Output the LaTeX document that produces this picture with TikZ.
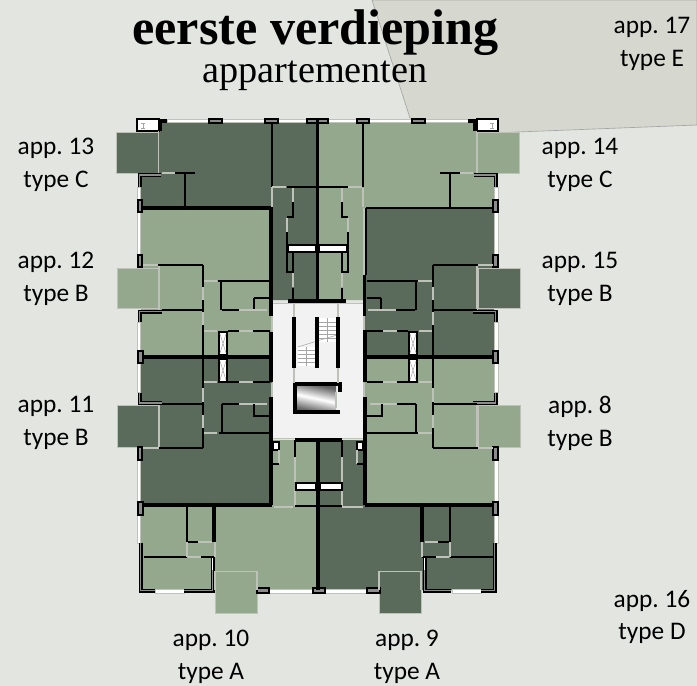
\documentclass[tikz,border=0pt]{standalone}
\usepackage{fontspec}
\newfontfamily\labelfont{Carlito}
\newfontfamily\titlefont{Liberation Serif}
\definecolor{groundpale}{HTML}{E3E5E0}
\definecolor{groundnext}{HTML}{D6D8CF}
\definecolor{roomdark}{HTML}{5B6B5B}
\definecolor{roomlight}{HTML}{94A88E}
\definecolor{corefill}{HTML}{F2F2F2}
\definecolor{doorgrey}{HTML}{BEC2B8}
\definecolor{cavitygrey}{HTML}{8C8C8C}
\tikzset{every picture/.style={line width=0.75pt}}
\tikzset{
  aptlabel/.style={font=\labelfont\fontsize{19}{24.7}\selectfont\frenchspacing,align=center,inner sep=0pt},
  thinwall/.style={draw=black,line width=0.9pt},
  midwall/.style={draw=black,line width=1.5pt},
  heavywall/.style={draw=black,line width=2.4pt},
  doorline/.style={draw=doorgrey,line width=0.9pt},
  balcony/.style={draw=doorgrey,line width=0.75pt},
  windowstrip/.style={draw=doorgrey,fill=white,line width=0.5pt},
  pier/.style={draw=black,fill=cavitygrey,line width=1.1pt},
  shaftbox/.style={draw=black,fill=white,line width=1.2pt},
  cavity/.style={draw=black,line width=0.95pt,double=cavitygrey,double distance=1.1pt},
  stepline/.style={draw=gray!70,line width=0.4pt}
}
\begin{document}
\begin{tikzpicture}[x=0.75pt,y=0.75pt,yscale=-1,xscale=1]
    \useasboundingbox (0,0) rectangle (697,686);

    %Shape: ground
    \fill [groundpale] (0,0) rectangle (697,686);
    \draw [draw=gray!70,fill=groundnext,line width=0.5pt] (372,0) -- (410,118) -- (498,133) -- (517,132) -- (697,125) -- (697,0) -- cycle;

    %Shape: rooms dark
    \fill [roomdark] (159,121) -- (317,121) -- (317,300) -- (272,300) -- (272,208) -- (141,208) -- (141,177) -- (159,177) -- cycle;
    \fill [roomdark] (141,357) rectangle (272,505);
    \fill [roomdark] (363,208) rectangle (494,357);
    \fill [roomdark] (318,440) -- (363,440) -- (363,505) -- (494,505) -- (494,590) -- (318,590) -- cycle;
    %Shape: rooms light
    \fill [roomlight] (317,121) -- (476,121) -- (476,177) -- (494,177) -- (494,208) -- (363,208) -- (363,300) -- (317,300) -- cycle;
    \fill [roomlight] (141,208) rectangle (272,357);
    \fill [roomlight] (363,357) rectangle (494,505);
    \fill [roomlight] (272,440) -- (318,440) -- (318,590) -- (141,590) -- (141,505) -- (272,505) -- cycle;
    %Shape: balconies
    \draw [balcony,fill=roomdark] (116,132) rectangle (158,173);
    \draw [balcony,fill=roomlight] (477,132) rectangle (519,173);
    \draw [balcony,fill=roomlight] (117,268) rectangle (159,308);
    \draw [balcony,fill=roomdark] (478,268) rectangle (520,308);
    \draw [balcony,fill=roomdark] (117,405) rectangle (159,447);
    \draw [balcony,fill=roomlight] (478,405) rectangle (520,447);
    \draw [balcony,fill=roomlight] (215,571) rectangle (257,613);
    \draw [balcony,fill=roomdark] (379,571) rectangle (421,613);

    %Shape: core
    \draw [draw=doorgrey,fill=corefill] (272,303) rectangle (363,438);
    %Shape: stairs
    \fill [white] (318,318) rectangle (337,342);
    \fill [white] (298,347) rectangle (315,366);
    \draw [stepline] (318,322) -- (337,322) (318,326) -- (337,326) (318,330) -- (337,330) (318,334) -- (337,334) (318,338) -- (337,338) (327.5,318) -- (327.5,342);
    \draw [stepline] (298,350) -- (315,350) (298,354) -- (315,354) (298,358) -- (315,358) (298,362) -- (315,362) (306.5,347) -- (306.5,366);
    \draw [stepline] (298,347) -- (317,341) -- (337,335);
    %Shape: lift
    \shade [top color=gray!75!black,bottom color=gray!75!black,middle color=white,shading angle=-12] (297,386) rectangle (336,411);
    \draw [doorline] (336,392) -- (336,408);
    \draw [heavywall] (340,392) -- (340,384) -- (295,384) -- (295,412) -- (340,412);
    \draw [heavywall] (294,317) -- (294,368) (317,317) -- (317,368) (338,317) -- (338,368);
    \draw [doorline] (294,303) -- (294,317) (294,368) -- (294,383) (338,303) -- (338,317) (338,368) -- (338,383);

    %Shape: window strips
    \draw [windowstrip] (167,119) rectangle (209,122.5);
    \draw [windowstrip] (222,119) rectangle (265,122.5);
    \draw [windowstrip] (278,119) rectangle (307,122.5);
    \draw [windowstrip] (328,119) rectangle (357,122.5);
    \draw [windowstrip] (369,119) rectangle (412,122.5);
    \draw [windowstrip] (425,119) rectangle (468,122.5);
    \draw [windowstrip] (137,187) rectangle (140.5,200);
    \draw [windowstrip] (137,212) rectangle (140.5,255);
    \draw [windowstrip] (137,322) rectangle (140.5,351);
    \draw [windowstrip] (137,363) rectangle (140.5,392);
    \draw [windowstrip] (137,460) rectangle (140.5,502);
    \draw [windowstrip] (137,515) rectangle (140.5,543);
    \draw [windowstrip] (494.5,187) rectangle (498,200);
    \draw [windowstrip] (494.5,212) rectangle (498,255);
    \draw [windowstrip] (494.5,322) rectangle (498,351);
    \draw [windowstrip] (494.5,363) rectangle (498,392);
    \draw [windowstrip] (494.5,460) rectangle (498,502);
    \draw [windowstrip] (494.5,515) rectangle (498,543);
    \draw [windowstrip] (155,589.5) rectangle (184,593);
    \draw [windowstrip] (269,589.5) rectangle (313,593);
    \draw [windowstrip] (325,589.5) rectangle (367,593);
    \draw [windowstrip] (452,589.5) rectangle (481,593);

    %Shape: piers
    \draw [pier] (209,119) rectangle (222,123);
    \draw [pier] (265,119) rectangle (278,123);
    \draw [pier] (307,119) rectangle (328,123);
    \draw [pier] (357,119) rectangle (369,123);
    \draw [pier] (412,119) rectangle (425,123);
    \draw [pier] (138,200) rectangle (142,212);
    \draw [pier] (138,255) rectangle (142,267);
    \draw [pier] (138,351) rectangle (143,363);
    \draw [pier] (138,447) rectangle (142,460);
    \draw [pier] (138,502) rectangle (143,515);
    \draw [pier] (493,200) rectangle (498,212);
    \draw [pier] (493,255) rectangle (498,267);
    \draw [pier] (493,351) rectangle (498,363);
    \draw [pier] (493,447) rectangle (498,460);
    \draw [pier] (493,502) rectangle (498,515);
    \draw [pier] (257,588) rectangle (269,593);
    \draw [pier] (313,588) rectangle (325,593);
    \draw [pier] (367,588) rectangle (380,593);

    %Shape: corner boxes
    \draw [draw=black,fill=white,line width=1.1pt] (137,119) rectangle (159,131);
    \draw [draw=black,fill=white,line width=1.1pt] (477,119) rectangle (498,131);
    \draw [stepline] (141,123) -- (145,123) (143,123) -- (143,128) (141,128) -- (145,128);
    \draw [stepline] (490,123) -- (494,123) (492,123) -- (492,128) (490,128) -- (494,128);
    \draw [heavywall] (167,121) -- (160,121) -- (160,131);
    \draw [heavywall] (468,121) -- (475,121) -- (475,131);

    %Shape: outer wall corners
    \draw [cavity] (161,175) -- (139.5,175) -- (139.5,187);
    \draw [cavity] (474,175) -- (495.5,175) -- (495.5,187);
    \draw [cavity] (139.5,322) -- (139.5,311.5) -- (162,311.5);
    \draw [cavity] (495.5,322) -- (495.5,311.5) -- (473,311.5);
    \draw [cavity] (139.5,393) -- (139.5,403) -- (162,403);
    \draw [cavity] (495.5,393) -- (495.5,403) -- (473,403);
    \draw [cavity] (140.5,543) -- (140.5,590.5) -- (155,590.5);
    \draw [cavity] (184,590.5) -- (212.5,590.5) -- (212.5,557);
    \draw [cavity] (494.5,543) -- (494.5,590.5) -- (481,590.5);
    \draw [cavity] (451,590.5) -- (424.5,590.5) -- (424.5,557);
    \draw [draw=white,line width=1pt] (212.5,558) -- (212.5,570) (424.5,558) -- (424.5,570);

    %Straight Lines: main walls
    \draw [heavywall] (317.5,119) -- (317.5,300);
    \draw [heavywall] (318,440) -- (318,590);
    \draw [heavywall] (141,208) -- (271,208) -- (271,316);
    \draw [heavywall] (364.5,275) -- (364.5,316);
    \draw [midwall] (366,208) -- (494,208);
    \draw [midwall] (366,208) -- (366,275);
    \draw [doorline] (364,208) -- (364,275);
    \draw [heavywall] (288,301) -- (346,301);
    \draw [heavywall] (295,440) -- (342,440);
    \draw [line width=3pt] (143,357) -- (271,357) (365,357) -- (493,357);
    \draw [heavywall] (271,332) -- (271,382) (271,397) -- (271,505);
    \draw [heavywall] (365,330) -- (365,382) (365,397) -- (365,505);
    \draw [line width=3pt] (143,505) -- (272,505) (365,505) -- (493,505);
    \draw [doorline] (272,316) -- (272,331) (272,383) -- (272,397) (364,316) -- (364,330) (364,383) -- (364,397);

    %Straight Lines: top left and top right
    \draw [doorline] (158.5,131) -- (158.5,173) (476.5,131) -- (476.5,173);
    \draw [doorline] (162,173) -- (175,173) (460,173) -- (473,173);
    \draw [thinwall] (175,173) -- (195,173) (185,173) -- (185,208);
    \draw [thinwall] (440,173) -- (460,173) (450,173) -- (450,208);
    \draw [thinwall] (272,122) -- (272,187) (363,122) -- (363,187);
    \draw [thinwall] (287,187) -- (348,187);
    \draw [doorline] (272,187) -- (286,187) (272,187) -- (272,207) (348,187) -- (362,187) (363,188) -- (363,207);

    %Straight Lines: upper stair
    \draw [doorline] (293,188) -- (293,202) (287,218) -- (287,232) (293,273) -- (293,287);
    \draw [doorline] (342,188) -- (342,202) (348,218) -- (348,232) (342,273) -- (342,287);
    \draw [midwall] (293,202) -- (293,217) -- (287,217) (342,202) -- (342,217) -- (348,217);
    \draw [midwall] (293,288) -- (293,300) (342,288) -- (342,300);
    \draw [thinwall] (287,232) -- (287,272) -- (293,272) -- (293,253) (348,232) -- (348,272) -- (342,272) -- (342,253);
    %Shape: upper shaft
    \draw [shaftbox] (288,245) rectangle (316,252);
    \draw [shaftbox] (319,245) rectangle (347,252);

    %Straight Lines: row of apartments 12 and 15
    \draw [doorline] (143,265) -- (158,265) (478,265) -- (493,265) (159,265) -- (159,310) (477,265) -- (477,310);
    \draw [thinwall] (158,265) -- (203,265) (433,265) -- (478,265);
    \draw [thinwall] (218,281) -- (270,281) (367,281) -- (418,281);
    \draw [doorline] (204,281) -- (217,281) (418,281) -- (432,281);
    \draw [midwall] (221,281) -- (221,310) (415.5,281) -- (415.5,310);
    \draw [midwall] (254,298) -- (254,310) (254,298) -- (270,298) (381,298) -- (381,310) (367,298) -- (381,298);
    \draw [midwall] (162,310) -- (203,310) (222,310) -- (239,310) (432,310) -- (477,310) (396,310) -- (415,310);
    \draw [doorline] (239,310) -- (267,310) (368,310) -- (396,310);

    %Straight Lines: long walls beside the landings
    \draw [midwall] (203,265) -- (203,287) (203,300) -- (203,312) (203,325) -- (203,388) (203,402) -- (203,415) (203,428) -- (203,448);
    \draw [doorline] (203,287) -- (203,300) (203,312) -- (203,325) (203,388) -- (203,402) (203,415) -- (203,428);
    \draw [midwall] (433,265) -- (433,287) (433,300) -- (433,312) (433,325) -- (433,388) (433,402) -- (433,415) (433,428) -- (433,448);
    \draw [doorline] (433,287) -- (433,300) (433,312) -- (433,325) (433,388) -- (433,402) (433,415) -- (433,428);

    %Straight Lines: landings
    \draw [doorline] (204,331) -- (217,331) (239,331) -- (253,331) (204,382) -- (217,382) (239,382) -- (253,382);
    \draw [midwall] (228,331) -- (239,331) (253,331) -- (270,331) (228,382) -- (239,382) (253,382) -- (270,382);
    \draw [doorline] (419,331) -- (432,331) (383,331) -- (397,331) (419,382) -- (432,382) (383,382) -- (397,382);
    \draw [midwall] (367,331) -- (383,331) (397,331) -- (408,331) (367,382) -- (383,382) (397,382) -- (408,382);
    %Shape: landing shafts
    \draw [shaftbox] (219,332) rectangle (227,355);
    \draw [shaftbox] (219,359) rectangle (227,382);
    \draw [shaftbox] (409,332) rectangle (417,355);
    \draw [shaftbox] (409,359) rectangle (417,382);
    \draw [stepline] (220,334) -- (226,353) (226,334) -- (220,353) (220,361) -- (226,380) (226,361) -- (220,380);
    \draw [stepline] (410,334) -- (416,353) (416,334) -- (410,353) (410,361) -- (416,380) (416,361) -- (410,380);

    %Straight Lines: row of apartments 11 and 8
    \draw [midwall] (162,404) -- (203,404) (222,404) -- (239,404) (433,404) -- (477,404) (397,404) -- (416,404);
    \draw [doorline] (239,404) -- (267,404) (370,404) -- (397,404) (159,405) -- (159,448) (477,405) -- (477,448);
    \draw [midwall] (254,404) -- (254,416) -- (270,416) (382,404) -- (382,416) -- (367,416);
    \draw [midwall] (222,404) -- (222,433) (416,404) -- (416,433);
    \draw [thinwall] (219,433) -- (270,433) (367,433) -- (418,433);
    \draw [doorline] (204,433) -- (217,433) (418,433) -- (432,433);
    \draw [thinwall] (159,448) -- (203,448) (433,448) -- (478,448);
    \draw [doorline] (143,448) -- (159,448) (478,448) -- (493,448);

    %Straight Lines: lower stair
    \draw [midwall] (295,440) -- (295,457) (342,440) -- (342,457);
    \draw [doorline] (295,457) -- (295,482) (342,457) -- (342,482) (295,490) -- (295,506) (342,490) -- (342,506);
    \draw [thinwall] (295,506) -- (316,506) (320,506) -- (342,506);
    \draw [doorline] (274,507) -- (293,507) (342,507) -- (363,507);
    \draw [shaftbox] (296,483) rectangle (316,490);
    \draw [shaftbox] (320,483) rectangle (342,490);
    \draw [shaftbox] (273,442) rectangle (279,450);
    \draw [shaftbox] (357,442) rectangle (363,450);
    \draw [doorline] (279,450) -- (279,464) (357,450) -- (357,464);
    \draw [thinwall] (273,464) -- (279,464) (357,464) -- (363,464);

    %Straight Lines: bottom left
    \draw [thinwall] (144,557) -- (187,557) (187,507) -- (187,542) -- (198,542);
    \draw [midwall] (201,557) -- (215,557);
    \draw [heavywall] (214,507) -- (214,542);
    \draw [doorline] (188,557) -- (201,557) (198,542) -- (212,542) (187,542) -- (187,557) (215,542) -- (215,557);
    \draw [doorline] (215,571) -- (215,590) (257,571) -- (257,590);
    %Straight Lines: bottom right
    \draw [thinwall] (450,557) -- (493,557) (450,507) -- (450,542) -- (438,542);
    \draw [midwall] (422,557) -- (436,557);
    \draw [heavywall] (422,507) -- (422,542);
    \draw [doorline] (436,557) -- (449,557) (425,542) -- (438,542) (450,542) -- (450,557) (422,542) -- (422,557);
    \draw [doorline] (379,571) -- (379,590) (421,571) -- (421,590);

    % Text Node
    \node (verdieping) [anchor=base,inner sep=0pt,font=\titlefont\bfseries\fontsize{37.6}{40}\selectfont] at (315.5,44) {eerste verdieping};
    % Text Node
    \node (appartementen) [anchor=base,inner sep=0pt,font=\titlefont\fontsize{28.7}{32}\selectfont] at (315,82) {appartementen};
    % Text Node
    \node (app13) [aptlabel] at (56,165) {app. 13\\type C};
    \node (app12) [aptlabel] at (56,279) {app. 12\\type B};
    \node (app11) [aptlabel] at (56,423) {app. 11\\type B};
    \node (app14) [aptlabel] at (580,165) {app. 14\\type C};
    \node (app15) [aptlabel] at (580,279) {app. 15\\type B};
    \node (app8) [aptlabel] at (580,423) {app. 8\\type B};
    \node (app17) [aptlabel] at (652,44) {app. 17\\type E};
    \node (app16) [aptlabel] at (652,617) {app. 16\\type D};
    \node (app10) [aptlabel] at (211,657) {app. 10\\type A};
    \node (app9) [aptlabel] at (407,657) {app. 9\\type A};

\end{tikzpicture}
\end{document}
